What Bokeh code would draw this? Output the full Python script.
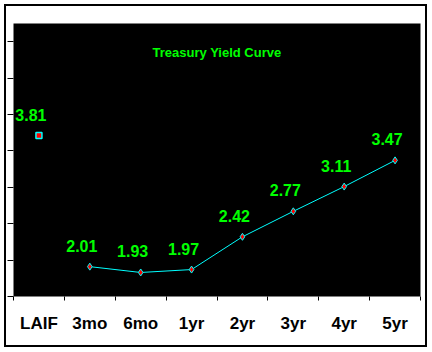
from bokeh.plotting import figure
from bokeh.layouts import column
from bokeh.models import (Range1d, LinearAxis, FixedTicker, Label, ColumnDataSource)
from bokeh.embed import file_html
from bokeh.resources import INLINE
from bokeh.core.properties import value

# ---- data ----
categories = ["LAIF", "3mo", "6mo", "1yr", "2yr", "3yr", "4yr", "5yr"]
yields = [3.81, 2.01, 1.93, 1.97, 2.42, 2.77, 3.11, 3.47]
y_ticks = [1.6, 2.1, 2.6, 3.1, 3.6, 4.1, 4.6, 5.1]
title_text = "Treasury Yield Curve"

FONT = "Liberation Sans"
GREEN = "#00FF00"
CYAN = "#00FFFF"
RED = "#FF0000"

n = len(categories)
centers = [i + 0.5 for i in range(n)]          # category slot centres
edges = list(range(n + 1))                     # category slot boundaries

p = figure(width=419, height=339, x_range=Range1d(0, n),
           y_range=Range1d(1.6, 5.35), output_backend="svg", toolbar_location=None,
           x_axis_location=None, y_axis_location="left",
           min_border_left=7, min_border_right=5, min_border_top=17, min_border_bottom=49)
p.background_fill_color = "black"
p.border_fill_color = "white"
p.outline_line_color = None
p.xgrid.visible = False
p.ygrid.visible = False

# y axis: ticks only
ya = p.yaxis[0]
ya.ticker = FixedTicker(ticks=y_ticks)
ya.major_label_overrides = {t: "" for t in y_ticks}
ya.major_label_standoff = 0
ya.major_tick_out = 6
ya.major_tick_in = 0
ya.minor_tick_out = 0
ya.minor_tick_in = 0
ya.axis_line_color = None
ya.major_tick_line_color = "black"

# x axis ticks at category boundaries
tick_axis = LinearAxis(ticker=FixedTicker(ticks=edges))
tick_axis.major_label_overrides = {t: "" for t in edges}
tick_axis.major_label_standoff = 0
tick_axis.major_tick_out = 4
tick_axis.major_tick_in = 0
tick_axis.minor_tick_out = 0
tick_axis.minor_tick_in = 0
tick_axis.axis_line_color = None
tick_axis.major_tick_line_color = "black"
p.add_layout(tick_axis, "below")

# category labels
cat_axis = LinearAxis(ticker=FixedTicker(ticks=centers))
cat_axis.major_label_overrides = {c: name for c, name in zip(centers, categories)}
cat_axis.major_tick_out = 0
cat_axis.major_tick_in = 0
cat_axis.minor_tick_out = 0
cat_axis.minor_tick_in = 0
cat_axis.axis_line_color = None
cat_axis.major_label_standoff = 13
cat_axis.major_label_text_font = FONT
cat_axis.major_label_text_font_style = "bold"
cat_axis.major_label_text_font_size = "17px"
cat_axis.major_label_text_color = "black"
p.add_layout(cat_axis, "below")

# curve (maturities after LAIF)
src = ColumnDataSource(dict(x=centers[1:], y=yields[1:]))
p.line("x", "y", source=src, line_color=CYAN, line_width=1)
p.scatter("x", "y", source=src, marker="diamond", size=7, fill_color=RED, line_color=CYAN, line_width=1)
# LAIF point
p.scatter(x=centers[:1], y=yields[:1], marker="square", size=6, fill_color=RED, line_color=CYAN, line_width=1.5)

# value labels
lab = ColumnDataSource(dict(x=centers, y=yields, t=["%.2f" % v for v in yields]))
p.text("x", "y", text="t", source=lab, x_offset=-8, y_offset=-21, text_align="center",
       text_baseline="alphabetic", text_color=GREEN, text_font=value(FONT),
       text_font_style="bold", text_font_size="16px")

# title inside plot
p.add_layout(Label(x=n / 2, y=4.95, text=title_text,
                   text_align="center", text_baseline="middle", text_color=GREEN,
                   text_font=FONT, text_font_style="bold", text_font_size="13px"))

# outer frame around the whole chart
layout = column(p, styles={"border": "2px solid black"}, margin=(4, 0, 0, 4))

open("out.html", "w").write(file_html(layout, INLINE))
